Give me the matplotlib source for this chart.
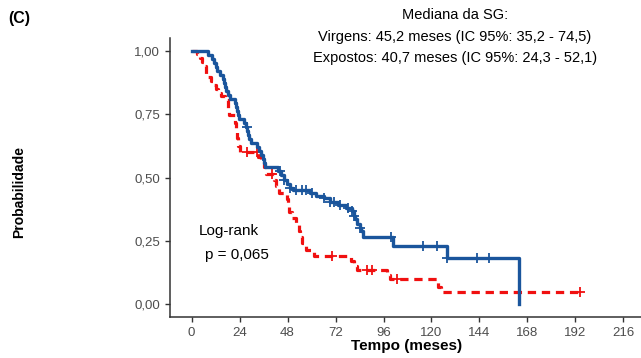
import numpy as np
import matplotlib.pyplot as plt

# %% data (months, survival)
virgens_t = [0, 8, 10, 11, 12, 12.6, 14, 15.5, 16, 16.8, 17.4, 18, 19, 21.6, 22, 22.5,
             23, 23.5, 26, 27, 27.6, 28.2, 28.8, 29.5, 32.6, 33.5, 34.5, 35.7, 36,
             36.6, 43, 44.5, 46, 47.5, 49, 50.6, 59, 62, 66, 69, 73, 77, 80, 81,
             81.6, 82.5, 84, 84.5, 85.5, 100.6, 127.6, 164]
virgens_s = [1.000, 0.984, 0.968, 0.952, 0.937, 0.921, 0.905, 0.889, 0.873, 0.857,
             0.841, 0.825, 0.810, 0.794, 0.778, 0.762, 0.746, 0.730, 0.714, 0.698,
             0.683, 0.667, 0.651, 0.635, 0.619, 0.603, 0.587, 0.571, 0.556, 0.540,
             0.524, 0.508, 0.492, 0.476, 0.460, 0.450, 0.440, 0.429, 0.418, 0.405,
             0.392, 0.380, 0.368, 0.350, 0.335, 0.318, 0.302, 0.288, 0.264, 0.230,
             0.182, 0.0]
virgens_cens = [27.5, 44, 46, 49, 52, 55, 57, 60, 66, 69, 71, 74, 78, 80, 81, 84,
                99.5, 116, 123, 127.8, 143, 149]

expostos_t = [0, 2.5, 4, 5, 6, 7, 7.6, 9.5, 10.6, 12, 13, 14.5, 16.6, 18, 18.6, 21.6,
              22.2, 22.8, 23.3, 24, 33, 34.5, 36, 37.2, 41, 42, 43.5, 47.6, 48.2,
              48.8, 50, 52, 53.5, 54.2, 55, 57, 61, 79.5, 81, 82.6, 97.6, 99, 123.5,
              125, 195]
expostos_s = [1.000, 0.985, 0.970, 0.955, 0.940, 0.910, 0.895, 0.880, 0.865, 0.850,
              0.835, 0.820, 0.805, 0.775, 0.745, 0.715, 0.685, 0.655, 0.625, 0.600,
              0.580, 0.560, 0.540, 0.515, 0.490, 0.465, 0.440, 0.415, 0.390, 0.365,
              0.340, 0.315, 0.290, 0.265, 0.240, 0.215, 0.190, 0.170, 0.150, 0.134,
              0.116, 0.098, 0.070, 0.047, 0.047]
expostos_cens = [27.6, 32.6, 40, 70, 87.6, 90, 102.6, 194.5]

xticks = [0, 24, 48, 72, 96, 120, 144, 168, 192, 216]
yticks = [0, 0.25, 0.5, 0.75, 1.0]
ylabels = ['0,00', '0,25', '0,50', '0,75', '1,00']

blue = '#1A559C'
red = '#F01010'
grey = '#4D4D4D'


def surv_at(times, t, s):
    idx = np.searchsorted(t, times, side='right') - 1
    return np.array(s)[idx]


# %%
plt.rcParams['font.family'] = ['Liberation Sans', 'DejaVu Sans']
fig = plt.figure(figsize=(6.41, 3.58), dpi=100)
ax = fig.add_axes([170 / 641, 1 - 317 / 358, 475 / 641, 279 / 358])

ax.step(expostos_t, expostos_s, where='post', color=red, lw=2.3,
        linestyle=(0, (2.6, 1.8)), zorder=2)
ax.step(virgens_t, virgens_s, where='post', color=blue, lw=2.4, zorder=3)

ax.plot(expostos_cens, surv_at(expostos_cens, expostos_t, expostos_s), '+',
        color=red, ms=7, mew=1.3, zorder=2)
ax.plot(virgens_cens, surv_at(virgens_cens, virgens_t, virgens_s), '+',
        color=blue, ms=7, mew=1.3, zorder=3)

ax.set_xlim(-10.8, 226.8)
ax.set_ylim(-0.05, 1.05)
ax.set_xticks(xticks)
ax.set_yticks(yticks)
ax.set_yticklabels(ylabels)
ax.tick_params(colors='#333333', labelcolor=grey, labelsize=9.5, length=3.5,
               width=1)
for side in ['top', 'right']:
    ax.spines[side].set_visible(False)
for side in ['left', 'bottom']:
    ax.spines[side].set_color('#333333')
    ax.spines[side].set_linewidth(1.1)

# axis titles placed by hand (condensed bold look)
fig.text(407 / 641, 1 - 346 / 358, 'Tempo (meses)', fontsize=11,
         fontweight='bold', ha='center', va='center')
fig.text(19 / 641, 1 - 192 / 358, 'Probabilidade', rotation=90, fontsize=10,
         fontweight='bold', ha='center', va='center')
fig.text(8 / 641, 1 - 18 / 358, '(C)', fontsize=11.5, fontweight='bold',
         ha='left', va='center')

ax.text(0.60, 1.082, 'Mediana da SG:', transform=ax.transAxes, ha='center',
        va='center', fontsize=10.5)
ax.text(0.60, 1.004, 'Virgens: 45,2 meses (IC 95%: 35,2 - 74,5)',
        transform=ax.transAxes, ha='center', va='center', fontsize=10.5)
ax.text(0.60, 0.928, 'Expostos: 40,7 meses (IC 95%: 24,3 - 52,1)',
        transform=ax.transAxes, ha='center', va='center', fontsize=10.5)
ax.text(3.5, 0.29, 'Log-rank', ha='left', va='center', fontsize=11)
ax.text(6.5, 0.195, 'p = 0,065', ha='left', va='center', fontsize=11)

fig.savefig('out.png', dpi=100)
